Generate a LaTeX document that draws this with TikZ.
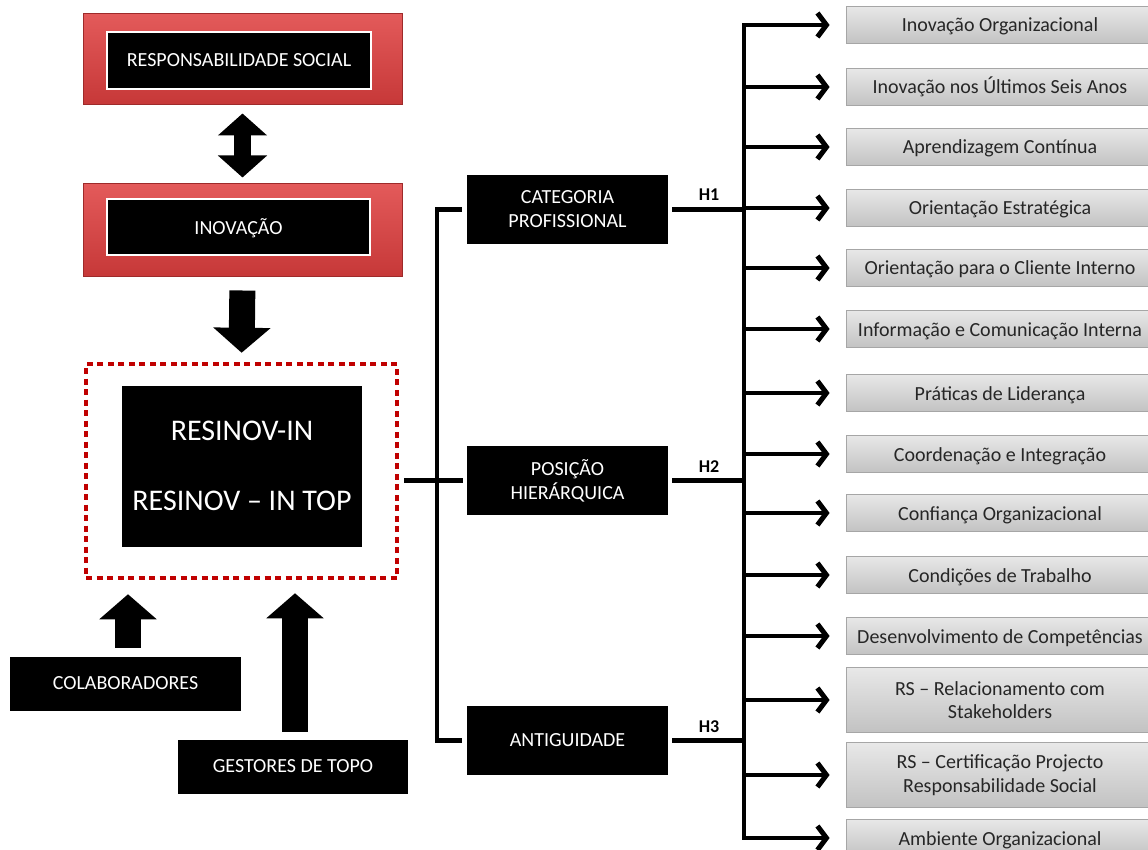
\documentclass[tikz,border=0pt]{standalone}
\usepackage{fontspec}
\setmainfont{Carlito}
\usetikzlibrary{arrows.meta,positioning,calc}

\definecolor{redtop}{HTML}{E35A5A}
\definecolor{redbot}{HTML}{C63838}
\definecolor{redline}{HTML}{9E2A2A}
\definecolor{dashred}{HTML}{C00000}
\definecolor{itemtop}{HTML}{E8E8E8}
\definecolor{itembot}{HTML}{C2C2C2}
\definecolor{itemline}{HTML}{A6A6A6}
\definecolor{itemtext}{HTML}{262626}

\tikzset{
  redframe/.style={rectangle, draw=redline, line width=1pt, top color=redtop, bottom color=redbot, minimum width=319pt, minimum height=92pt},
  innerbox/.style={rectangle, fill=black, draw=white, line width=2.5pt, text=white, inner sep=0pt, text depth=1pt, font=\fontsize{20}{24}\selectfont},
  blackbox/.style={rectangle, fill=black, text=white, align=center, inner sep=0pt, text depth=1pt, font=\fontsize{20}{24}\selectfont},
  itembox/.style={rectangle, draw=itemline, line width=0.8pt, top color=itemtop, bottom color=itembot, text=itemtext, align=center, inner sep=0pt, minimum width=308pt, font=\fontsize{20}{23.5}\selectfont},
  oneline/.style={text height=14pt, text depth=0pt},
  twoline/.style={},
  conn/.style={line width=4.5pt},
  itemarrow/.style={line width=4.5pt, -{Straight Barb[length=9pt, width=24pt, line width=5pt]}, shorten >=16pt},
  blockarrow/.style={line width=26pt, -{Triangle[length=25pt, width=56pt]}},
  hlabel/.style={font=\bfseries\fontsize{18}{20}\selectfont}
}

\begin{document}
\begin{tikzpicture}[x=1pt, y=-1pt]
  \useasboundingbox (0,0) rectangle (1148,850);

  % left column
  \node (resp-frame) [redframe, minimum height=91pt] at (242.5, 59.5) {};
  \node (resp) [innerbox, minimum width=264pt, minimum height=57pt] at (239, 60.5) {RESPONSABILIDADE SOCIAL};
  \node (inov-frame) [redframe, minimum height=93pt] at (242.5, 230.5) {};
  \node (inov) [innerbox, minimum width=263pt, minimum height=56pt] at (238.5, 227) {INOVAÇÃO};

  \node (resinov-frame) [rectangle, draw=dashred, line width=4.5pt, dash pattern=on 6pt off 4.5pt, minimum width=311pt, minimum height=214pt] at (241.5, 471) {};
  \node (resinov) [blackbox, minimum width=240pt, minimum height=161pt, font=\fontsize{30}{70}\selectfont] at (242, 466.5) {RESINOV-IN\\RESINOV -- IN TOP};

  \node (colab) [blackbox, minimum width=231pt, minimum height=54pt] at (125.5, 684) {COLABORADORES};
  \node (gestores) [blackbox, minimum width=230pt, minimum height=54pt] at (293, 767) {GESTORES DE TOPO};

  \coordinate (ctop) at ([xshift=2.5pt]colab.north);
  \coordinate (gtop) at ([xshift=2pt]gestores.north);

  \draw[line width=17pt, {Triangle[length=22pt, width=48pt]}-{Triangle[length=22pt, width=48pt]}, shorten <=8pt, shorten >=6pt] (resp-frame.south) -- (inov-frame.north);
  \draw[blockarrow, shorten <=13pt, shorten >=9pt] (inov-frame.south) -- (resinov-frame.north);
  \draw[blockarrow, shorten <=9pt, shorten >=14pt] (ctop) -- (ctop |- resinov-frame.south);
  \draw[blockarrow, shorten <=8pt, shorten >=13pt] (gtop) -- (gtop |- resinov-frame.south);

  % variables
  \node (categoria) [blackbox, minimum width=201pt, minimum height=69pt] at (567.5, 209.5) {CATEGORIA\\PROFISSIONAL};
  \node (posicao) [blackbox, minimum width=201pt, minimum height=69pt] at (567.5, 480.5) {POSIÇÃO\\HIERÁRQUICA};
  \node (antiguidade) [blackbox, minimum width=201pt, minimum height=69pt] at (567.5, 740.5) {ANTIGUIDADE};

  \coordinate (lbus) at (437, 481);
  \coordinate (rbus) at (744, 481);

  \draw[conn, shorten <=5pt, shorten >=4pt] (resinov-frame.east |- posicao) -- (posicao.west);
  \draw[conn, shorten <=5pt, shorten >=5pt] (categoria.west) -| (lbus) |- (antiguidade.west);

  \draw[conn, shorten <=4pt] (categoria.east) -- (rbus |- categoria);
  \draw[conn, shorten <=4pt] (posicao.east) -- (rbus |- posicao);
  \draw[conn, shorten <=4pt] (antiguidade.east) -- (rbus |- antiguidade);
  \node (h1) [hlabel] at (709, 195) {H1};
  \node (h2) [hlabel] at (709, 467) {H2};
  \node (h3) [hlabel] at (709, 727) {H3};

  % dimensions
  \foreach \yy/\hh/\kind/\txt [count=\i] in {
      25/37/oneline/{Inovação Organizacional},
      87/37/oneline/{Inovação nos Últimos Seis Anos},
      147/37/oneline/{Aprendizagem Contínua},
      208/37/oneline/{Orientação Estratégica},
      268/37/oneline/{Orientação para o Cliente Interno},
      329/37/oneline/{Informação e Comunicação Interna},
      393/37/oneline/{Práticas de Liderança},
      454/37/oneline/{Coordenação e Integração},
      513/37/oneline/{Confiança Organizacional},
      575/37/oneline/{Condições de Trabalho},
      636/37/oneline/{Desenvolvimento de Competências},
      700/65/twoline/{RS -- Relacionamento com\\Stakeholders},
      775/65/twoline/{RS -- Certificação Projecto\\Responsabilidade Social},
      838/37/oneline/{Ambiente Organizacional}} {
    \node (item\i) [itembox, \kind, minimum height=\hh pt] at (1000, \yy) {\txt};
    \draw[itemarrow] (rbus |- item\i) -- (item\i.west);
  }
  \draw[conn, line cap=rect] (rbus |- item1) -- (rbus |- item14);
\end{tikzpicture}
\end{document}
